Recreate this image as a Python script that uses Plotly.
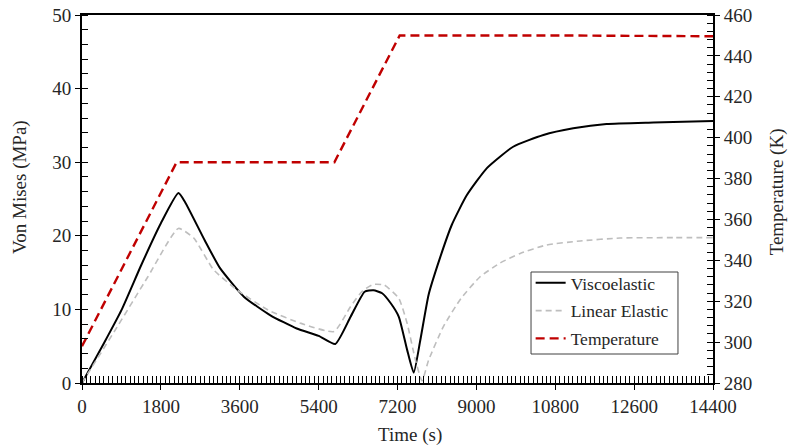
import plotly.graph_objects as go

# Time (s)
t_visco = [0, 500, 900, 1350, 1800, 2200, 2350, 2800, 3150, 3700, 4300, 4900, 5400, 5780,
           6130, 6450, 6650, 6850, 7050, 7230, 7420, 7570, 7720, 7910, 8170, 8440, 8780,
           9240, 9840, 10530, 11210, 11970, 13040, 14400]
# Von Mises stress (MPa), viscoelastic model
s_visco = [0, 5.4, 9.9, 16.0, 21.7, 25.8, 24.6, 19.4, 15.6, 11.7, 9.2, 7.4, 6.4, 5.3,
           9.0, 12.4, 12.6, 12.2, 10.8, 9.0, 4.5, 1.4, 5.8, 12.0, 17.0, 21.5, 25.5,
           29.2, 32.1, 33.7, 34.6, 35.2, 35.4, 35.6]

t_elastic = [0, 800, 1500, 2200, 2550, 3000, 3550, 4250, 5000, 5750, 6130, 6400, 6650,
             6900, 7230, 7420, 7610, 7760, 7910, 8250, 8650, 9080, 9540, 10000, 10600,
             11370, 12280, 13500, 14400]
# Von Mises stress (MPa), linear elastic model
s_elastic = [0, 7.6, 14.4, 21.0, 19.7, 15.4, 12.6, 9.9, 8.1, 7.0, 10.4, 12.5, 13.4,
             13.3, 11.5, 8.1, 3.1, 0.3, 3.1, 7.7, 11.5, 14.4, 16.3, 17.6, 18.75,
             19.3, 19.7, 19.75, 19.75]

t_temp = [0, 2160, 5760, 7250, 10800, 14400]
temp_k = [298, 388, 388, 450, 450, 449.6]

x_ticks = [0, 1800, 3600, 5400, 7200, 9000, 10800, 12600, 14400]
x_labels = [str(v) for v in x_ticks]

FONT = "Liberation Serif"
TXT = "#262626"

fig = go.Figure()
fig.add_trace(go.Scatter(x=t_visco, y=s_visco, mode="lines", name="Viscoelastic",
                         legendgroup="visco",
                         line=dict(color="black", width=2, shape="spline", smoothing=0.5)))
fig.add_trace(go.Scatter(x=t_elastic, y=s_elastic, mode="lines", name="Linear Elastic",
                         legendgroup="elastic",
                         line=dict(color="#BEBEBE", width=1.6, dash="6px,4px",
                                   shape="spline", smoothing=0.5)))
fig.add_trace(go.Scatter(x=t_temp, y=temp_k, mode="lines", name="Temperature",
                         legendgroup="temp", yaxis="y2",
                         line=dict(color="#C00000", width=2.4, dash="9px,5px")))

axis_common = dict(showline=True, linecolor="black", linewidth=2, showgrid=False,
                   zeroline=False, ticks="outside", ticklen=5, tickwidth=1.3,
                   tickcolor="black", automargin=False,
                   tickfont=dict(family=FONT, size=19, color=TXT))

fig.update_layout(
    width=790, height=447,
    margin=dict(l=82, r=77, t=15, b=64),
    paper_bgcolor="white", plot_bgcolor="white",
    font=dict(family=FONT, size=19, color=TXT),
    xaxis=dict(range=[0, 14400], tickvals=x_ticks, ticktext=x_labels, mirror=True,
               minor=dict(ticks="inside", dtick=100, ticklen=7, tickwidth=1,
                          tickcolor="black", showgrid=False),
               **axis_common),
    yaxis=dict(range=[0, 50], dtick=10,
               minor=dict(ticks="inside", dtick=2, ticklen=6, tickwidth=1,
                          tickcolor="black", showgrid=False),
               **axis_common),
    yaxis2=dict(range=[280, 460], dtick=20, overlaying="y", side="right",
                minor=dict(ticks="inside", dtick=4, ticklen=6, tickwidth=1,
                           tickcolor="black", showgrid=False),
                **axis_common),
    # legend entries sit on a framed white box drawn as a shape
    legend=dict(x=0.711, y=0.3207, xanchor="left", yanchor="top",
                bgcolor="rgba(0,0,0,0)", borderwidth=0,
                font=dict(family=FONT, size=17.5, color=TXT),
                tracegroupgap=2, itemwidth=30),
    shapes=[
        dict(type="rect", xref="paper", yref="paper",
             x0=0.7116, x1=0.9445, y0=0.0788, y1=0.3016, layer="above",
             fillcolor="white", line=dict(color="#404040", width=1)),
    ],
    showlegend=True,
    annotations=[
        dict(text="Time (s)", xref="paper", yref="paper", x=0.52, y=-0.141,
             showarrow=False, xanchor="center", yanchor="middle",
             font=dict(family=FONT, size=19, color=TXT)),
        dict(text="Von Mises (MPa)", xref="paper", yref="paper", x=-0.098, y=0.533,
             showarrow=False, xanchor="center", yanchor="middle", textangle=-90,
             font=dict(family=FONT, size=19, color=TXT)),
        dict(text="Temperature (K)", xref="paper", yref="paper", x=1.101, y=0.52,
             showarrow=False, xanchor="center", yanchor="middle", textangle=-90,
             font=dict(family=FONT, size=19, color=TXT)),
    ],
)

fig.write_html("out.html")
